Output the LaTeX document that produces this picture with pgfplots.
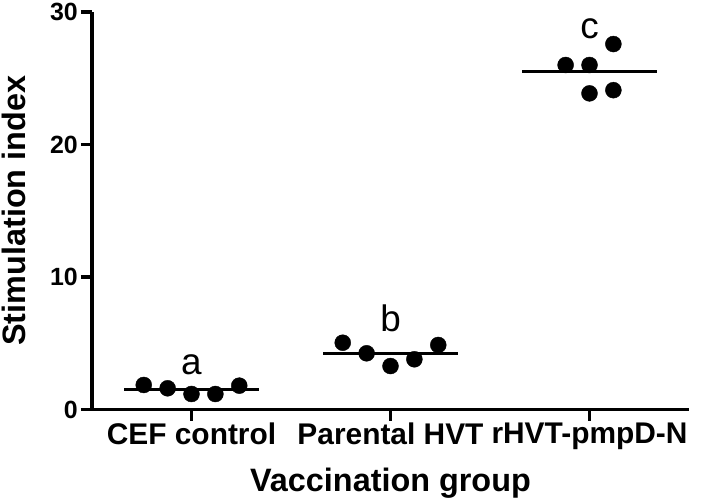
\documentclass[border=0pt]{standalone}
\usepackage{fontspec}
\setmainfont{Liberation Sans}
\usepackage{pgfplots}
\pgfplotsset{compat=1.18}

\begin{document}
\begin{tikzpicture}
\begin{axis}[
    scale only axis,
    width=597bp,
    height=397.5bp,
    xmin=0.5, xmax=3.5,
    ymin=0, ymax=30,
    axis lines=left,
    axis line style={-, line width=3.5bp},
    tick align=outside,
    major tick length=11bp,
    tick style={line width=3.5bp, black},
    xtick={1,2,3},
    xticklabels={CEF control, Parental HVT, rHVT-pmpD-N},
    ytick={0,10,20,30},
    /pgf/number format/assume math mode=true,
    xticklabel style={font=\bfseries\fontsize{30}{30}\selectfont, inner sep=2bp},
    yticklabel style={font=\bfseries\fontsize{25}{25}\selectfont, inner sep=3bp},
    xlabel={Vaccination group},
    ylabel={Stimulation index},
    label style={font=\bfseries\fontsize{32.5}{32.5}\selectfont},
    xlabel style={at={(axis description cs:0.5,-0.2075)}, anchor=base},
    ylabel style={at={(axis description cs:-0.1122,0.5)}, anchor=base},
    clip=false,
]

% individual birds
\addplot[only marks, mark=*, mark size=8bp, black] coordinates {
    (0.76,1.85) (0.88,1.60) (1.00,1.17) (1.12,1.17) (1.24,1.80)
};
\addplot[only marks, mark=*, mark size=8bp, black] coordinates {
    (1.76,5.04) (1.88,4.24) (2.00,3.28) (2.12,3.79) (2.24,4.87)
};
\addplot[only marks, mark=*, mark size=8bp, black] coordinates {
    (2.88,26.00) (3.00,26.00) (3.12,27.58) (3.00,23.86) (3.12,24.10)
};

% group means
\addplot[black, line width=3.5bp] coordinates {(0.663,1.52) (1.337,1.52)};
\addplot[black, line width=3.5bp] coordinates {(1.663,4.24) (2.337,4.24)};
\addplot[black, line width=3.5bp] coordinates {(2.663,25.5) (3.337,25.5)};

% significance letters
\node[font=\fontsize{37}{37}\selectfont] at (axis cs:1,3.36) {a};
\node[font=\fontsize{37}{37}\selectfont] at (axis cs:2,6.9) {b};
\node[font=\fontsize{37}{37}\selectfont] at (axis cs:3,28.7) {c};

\end{axis}
\pgfresetboundingbox
\useasboundingbox (-92bp,-94.5bp) rectangle (624bp,409.5bp);
\end{tikzpicture}
\end{document}
